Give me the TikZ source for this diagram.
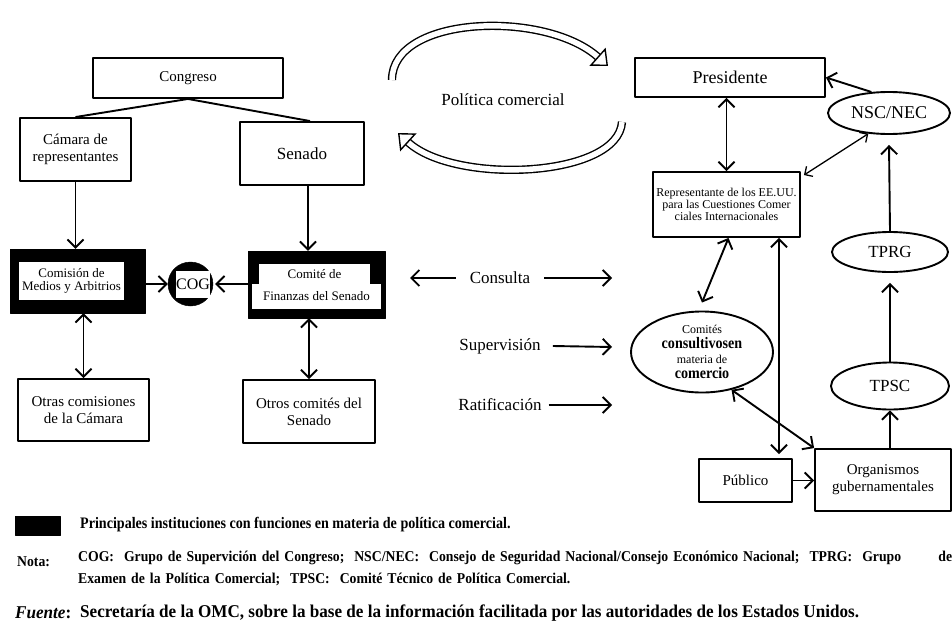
\documentclass[tikz,border=0pt]{standalone}
\usepackage{fontspec}
\setmainfont{Liberation Serif}
\newfontfamily\notefont{Liberation Serif}[FakeStretch=0.88]
\newfontfamily\notafont{Liberation Serif}[FakeStretch=0.915]
\newfontfamily\fuentefont{Liberation Serif}[FakeStretch=0.95]
\usetikzlibrary{arrows.meta,shapes.geometric}
\newcommand{\fs}[1]{\fontsize{#1}{#1}\selectfont}
\newcommand{\fsl}[2]{\fontsize{#1}{#2}\selectfont}
\tikzset{
  caja/.style={draw, line width=1.9pt, inner sep=0pt, align=center, font=\fs{15}},
  negra/.style={draw, fill=black, inner sep=0pt},
  blanca/.style={fill=white, inner sep=0pt, align=center, font=\fs{13}},
  elip/.style={ellipse, draw, line width=1.9pt, inner sep=0pt, align=center},
  flecha/.style={line width=1.9pt, -{Straight Barb[length=8pt,width=16pt]}},
  dflecha/.style={line width=1.9pt, {Straight Barb[length=8pt,width=16pt]}-{Straight Barb[length=8pt,width=16pt]}},
  hueca/.style={line width=1.4pt, double=white, double distance=5.5pt, -{Triangle[open,length=14pt,width=24pt,line width=1.4pt]}},
  etiq/.style={inner sep=0pt, font=\fs{17}},
}
\begin{document}
\begin{tikzpicture}[x=1pt, y=-1pt, line join=round]
  \useasboundingbox (0,0) rectangle (952,624);
  % Congreso
  \node[caja, minimum width=190, minimum height=40] (cong) at (188,78) {Congreso};
  \node[caja, minimum width=111, minimum height=63] (cam) at (75.5,149.5) {C\'amara de\\[2pt]representantes};
  \node[caja, minimum width=124, minimum height=63, font=\fs{17}] (sen) at (302,153.5) {Senado};
  % comisiones principales
  \node[negra, minimum width=135, minimum height=64] (com) at (77.5,281) {};
  \node[blanca, minimum width=105, minimum height=38] (comtxt) at (71.5,281) {Comisi\'on de\\Medios y Arbitrios};
  \node[negra, ellipse, minimum width=45, minimum height=44] (cog) at (190.5,284) {};
  \node[blanca, minimum width=34, minimum height=27, font=\fs{16}] (cogtxt) at (193,284.5) {COG};
  \node[negra, minimum width=137, minimum height=67] (cmt) at (316.5,284.5) {};
  \node[blanca, minimum width=111, minimum height=21] (cmt1) at (314.5,274) {Comit\'e de};
  \node[blanca, minimum width=129, minimum height=25] (cmt2) at (316.5,296.5) {Finanzas del Senado};
  \node[caja, minimum width=131, minimum height=62] (otr1) at (83.5,410) {Otras comisiones\\[2pt]de la C\'amara};
  \node[caja, minimum width=132, minimum height=63] (otr2) at (309,411.5) {Otros comit\'es del\\[2pt]Senado};
  \draw[line width=1.9pt] (cong.south) -- (cam.north);
  \draw[line width=1.9pt] (cong.south) -- ([xshift=8pt]sen.north);
  \draw[flecha] (cam.south) -- (cam.south |- com.north);
  \draw[flecha] ([xshift=6pt]sen.south) -- ([xshift=6pt]sen.south |- cmt.north);
  \draw[flecha] (com.east |- cog) -- (cog.west);
  \draw[flecha] (cmt.west |- cog) -- ([xshift=2pt]cog.east);
  \draw[dflecha] (otr1.north |- com.south) -- (otr1.north);
  \draw[dflecha] (otr2.north |- cmt.south) -- (otr2.north);
  % politica comercial
  \node[etiq] (pol) at (503,100) {Pol\'itica comercial};
  \draw[hueca] (392,80) .. controls (392,15) and (545,10) .. (608,66);
  \draw[hueca] (622,122) .. controls (618,178) and (455,185) .. (398,133);
  % consulta, supervision, ratificacion
  \node[etiq] (con) at (500,278) {Consulta};
  \node[etiq] (sup) at (500,346) {Supervisi\'on};
  \node[etiq] (rat) at (500,405) {Ratificaci\'on};
  \path (410,278) coordinate (c1) (612,278) coordinate (c2)
        (612,347) coordinate (s1) (612,405) coordinate (r1);
  \draw[flecha] ([xshift=-14pt]con.west) -- (c1);
  \draw[flecha] ([xshift=14pt]con.east) -- (c2);
  \draw[flecha] ([xshift=12pt]sup.east) -- (s1);
  \draw[flecha] ([xshift=7pt]rat.east) -- (r1);
  % ejecutivo
  \node[caja, minimum width=190, minimum height=39, font=\fs{18}] (pres) at (730,77.5) {Presidente};
  \node[elip, minimum width=122, minimum height=42, font=\fs{18}] (nsc) at (889,113) {NSC/NEC};
  \node[caja, minimum width=147, minimum height=65, font=\fs{12}] (rep) at (726.5,204.5)
    {Representante de los EE.UU.\\para las Cuestiones Comer\\ciales Internacionales};
  \node[elip, minimum width=116, minimum height=40, font=\fs{17}] (tprg) at (890,252) {TPRG};
  \node[elip, minimum width=118, minimum height=47, font=\fs{17}] (tpsc) at (890,386) {TPSC};
  \node[elip, minimum width=142, minimum height=81, font=\fs{12}] (cc) at (702,352)
    {Comit\'es\\[3pt]{\notefont\bfseries\fs{16}consultivosen}\\[3pt]materia de\\[3pt]{\notefont\bfseries\fs{16}comercio}};
  \node[caja, minimum width=136, minimum height=62] (org) at (883,480) {Organismos\\[2pt]gubernamentales};
  \node[caja, minimum width=93, minimum height=43] (pub) at (745.5,480.5) {P\'ublico};
  \draw[flecha] (nsc.130) -- (pres.east);
  \draw[dflecha] (rep.north |- pres.south) -- (rep.north);
  \draw[line width=1.3pt, {Straight Barb[length=6pt,width=12pt]}-{Straight Barb[length=6pt,width=12pt]}] ([xshift=3pt,yshift=-4pt]rep.north east) -- (nsc.225);
  \draw[flecha] (tprg.north) -- ([yshift=-10pt]nsc.south);
  \draw[flecha] (tpsc.north) -- ([yshift=-10pt]tprg.south);
  \draw[flecha] (org.north -| tpsc) -- (tpsc.south);
  \draw[flecha] (pub.east) -- (org.west |- pub.east);
  \draw[dflecha] ([xshift=2pt]rep.south) -- ([yshift=8pt]cc.north);
  \draw[dflecha] ([xshift=52.5pt]rep.south) -- ([xshift=52.5pt,yshift=4pt]rep.south |- pub.north);
  \draw[dflecha] (cc.-52) -- (org.north west);
  % leyenda y notas
  \node[negra, minimum width=45, minimum height=19] (leg) at (37.5,525.5) {};
  \node[anchor=west, inner sep=0pt, font=\notefont\bfseries\fs{16}] (legtxt) at (80,525)
    {Principales instituciones con funciones en materia de pol\'itica comercial.};
  \node[anchor=west, inner sep=0pt, font=\notafont\bfseries\fs{15}] (nota) at (17,562) {Nota:};
  \node[anchor=north west, inner sep=0pt, text width=874pt, font=\notafont\bfseries\fsl{15}{22}] (notatxt) at (78,551)
    {COG:~ Grupo de Supervici\'on del Congreso;~ NSC/NEC:~ Consejo de Seguridad Nacional/Consejo Econ\'omico Nacional;~ TPRG:~ Grupo\hfill de\\
     Examen de la Pol\'itica Comercial;~ TPSC:~ Comit\'e T\'ecnico de Pol\'itica Comercial.};
  \node[anchor=west, inner sep=0pt, font=\fuentefont\bfseries\fs{18}] (fte) at (15,613) {\textit{Fuente}:};
  \node[anchor=west, inner sep=0pt, font=\fuentefont\bfseries\fs{18}] (ftetxt) at (80,613)
    {Secretar\'ia de la OMC, sobre la base de la informaci\'on facilitada por las autoridades de los Estados Unidos.};
\end{tikzpicture}
\end{document}
